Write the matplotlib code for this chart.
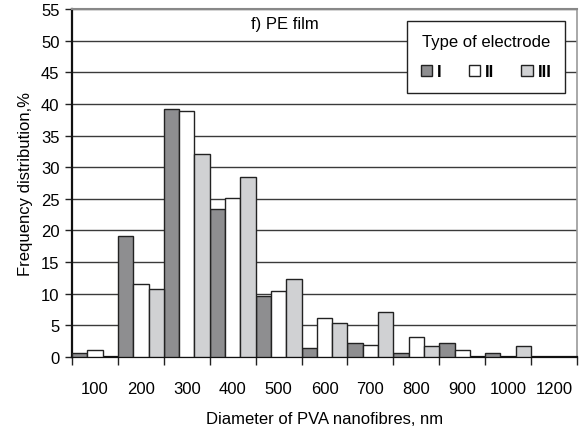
import matplotlib
matplotlib.use("Agg")
import matplotlib.pyplot as plt
import numpy as np
from matplotlib.patches import Patch

plt.rcParams['font.family'] = ['Liberation Sans', 'DejaVu Sans']

categories = ["100", "200", "300", "400", "500", "600", "700", "800", "900", "1000", "1200"]
series_names = ["I", "II", "III"]
values_I = [0.6, 19.2, 39.2, 23.4, 9.6, 1.5, 2.2, 0.6, 2.2, 0.6, 0.0]
values_II = [1.1, 11.5, 38.9, 25.2, 10.4, 6.2, 1.9, 3.1, 1.1, 0.0, 0.0]
values_III = [0.0, 10.7, 32.1, 28.5, 12.4, 5.3, 7.1, 1.7, 0.0, 1.8, 0.0]
y_ticks = list(range(0, 56, 5))

colors = ["#8e8e90", "#ffffff", "#d0d1d3"]
edge = "#222222"
fs = 12

fig = plt.figure(figsize=(5.87, 4.39), dpi=100)
ax = fig.add_axes([72/587, 1-358/439, 505/587, 348/439])

x = np.arange(len(categories))
w = 1/3
for i, (vals, c) in enumerate(zip([values_I, values_II, values_III], colors)):
    v = np.array(vals, dtype=float)
    keep = v > 0
    ax.bar(x[keep] + (i - 1) * w, v[keep], width=w, color=c, edgecolor=edge,
           linewidth=1.0, zorder=3)

ax.set_xlim(-0.5, len(categories) - 0.5)
ax.set_ylim(0, 55)
ax.set_yticks(y_ticks)
ax.yaxis.grid(True, color="#3a3a3a", linewidth=1.0, zorder=0)
ax.set_axisbelow(True)

ax.set_xticks(x)
ax.set_xticklabels(categories, fontsize=fs)
ax.set_xticks(np.arange(len(categories) + 1) - 0.5, minor=True)
ax.tick_params(axis='x', which='major', length=0, pad=17)
ax.tick_params(axis='x', which='minor', length=6, width=1.0, color="#222222", direction='out')
ax.tick_params(axis='y', labelsize=fs, length=5, width=1.0, color="#222222", pad=4)

for s in ['left', 'bottom']:
    ax.spines[s].set_linewidth(1.6)
    ax.spines[s].set_color("#111111")
ax.spines['right'].set_color("#999999")
ax.spines['right'].set_linewidth(1.2)
ax.spines['top'].set_color("#888888")
ax.spines['top'].set_linewidth(1.5)

ax.set_ylabel("Frequency distribution,%", fontsize=fs, labelpad=6)
ax.set_xlabel("Diameter of PVA nanofibres, nm", fontsize=fs, labelpad=11)

ax.text((284.5 - 72) / 505, 1 - (25 - 10) / 348, "f) PE film", transform=ax.transAxes,
        fontsize=fs, ha='center', va='center')

handles = [Patch(facecolor=c, edgecolor=edge, linewidth=1.0) for c in colors]
leg = ax.legend(handles, series_names, title="Type of electrode", ncol=3,
                loc='upper right', bbox_to_anchor=((565 - 72) / 505, 1 - (22 - 10) / 348),
                borderaxespad=0,
                frameon=True, fancybox=False, edgecolor="#222222", framealpha=1,
                fontsize=fs, title_fontsize=fs, handlelength=0.7, handleheight=0.7,
                handletextpad=0.3, columnspacing=1.6, borderpad=0.8, labelspacing=0.9)
leg.get_frame().set_linewidth(1.0)
for t in leg.get_texts():
    t.set_fontweight('bold')
leg.set_zorder(5)

fig.savefig("out.png", dpi=100)
